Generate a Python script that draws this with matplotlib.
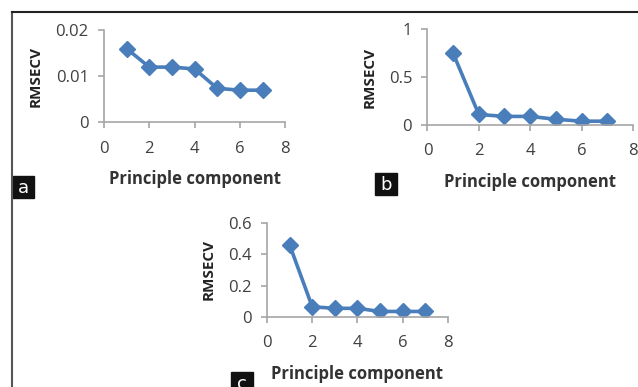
import matplotlib.pyplot as plt
from matplotlib.patches import Rectangle
from matplotlib.lines import Line2D

pc = [1, 2, 3, 4, 5, 6, 7]
rmsecv_a = [0.016, 0.012, 0.012, 0.0116, 0.0074, 0.007, 0.007]
rmsecv_b = [0.75, 0.11, 0.09, 0.09, 0.06, 0.04, 0.04]
rmsecv_c = [0.46, 0.065, 0.055, 0.055, 0.035, 0.035, 0.035]

y_ticks_a = [0, 0.01, 0.02]
y_ticks_b = [0, 0.5, 1]
y_ticks_c = [0, 0.2, 0.4, 0.6]
y_labels_a = ['0', '0.01', '0.02']
y_labels_b = ['0', '0.5', '1']
y_labels_c = ['0', '0.2', '0.4', '0.6']
x_ticks = [0, 2, 4, 6, 8]

plt.rcParams['font.family'] = ['Open Sans', 'DejaVu Sans']
blue = '#4a7ebb'
grey = '#a6a6a6'

fig = plt.figure(figsize=(6.38, 3.87), dpi=100)


def panel(rect, y, yticks, ylabels, ymax):
    ax = fig.add_axes(rect)
    ax.plot(pc, y, color=blue, lw=2.6, marker='D', ms=8, mec=blue, mfc=blue)
    ax.set_xlim(0, 8)
    ax.set_ylim(0, ymax)
    ax.set_xticks(x_ticks)
    ax.set_yticks(yticks)
    ax.set_yticklabels(ylabels)
    for s in ['top', 'right']:
        ax.spines[s].set_visible(False)
    for s in ['left', 'bottom']:
        ax.spines[s].set_color(grey)
        ax.spines[s].set_linewidth(1.2)
    ax.tick_params(colors=grey, labelcolor='#404040', labelsize=12,
                   length=4, width=1.2)
    ax.tick_params(axis='x', pad=9)
    ax.tick_params(axis='y', pad=7)
    ax.set_ylabel('RMSECV', fontsize=11, fontweight='bold', color='#222222',
                  labelpad=9)
    ax.set_xlabel('Principle component', fontsize=12, fontweight='bold',
                  color='#333333', labelpad=10)
    ax.patch.set_alpha(0)
    return ax


panel([0.163, 0.6835, 0.284, 0.2385], rmsecv_a, y_ticks_a, y_labels_a, 0.02)
panel([0.670, 0.677, 0.322, 0.247], rmsecv_b, y_ticks_b, y_labels_b, 1)
panel([0.4185, 0.181, 0.2835, 0.243], rmsecv_c, y_ticks_c, y_labels_c, 0.6)

# outer frame (top and left only)
fig.add_artist(Line2D([12 / 638, 12 / 638], [0, 1 - 12 / 387],
                      transform=fig.transFigure, color='#555555', lw=1.5))
fig.add_artist(Line2D([12 / 638, 1], [1 - 12 / 387, 1 - 12 / 387],
                      transform=fig.transFigure, color='#222222', lw=1.5))

# panel letters
for letter, x0, y0 in [('a', 12, 176), ('b', 375, 173), ('c', 231, 372)]:
    w, h = 22, 22
    fig.add_artist(Rectangle((x0 / 638, 1 - (y0 + h) / 387), w / 638, h / 387,
                             transform=fig.transFigure, color='#111111'))
    fig.text((x0 + w / 2) / 638, 1 - (y0 + h / 2 + 1) / 387, letter,
             color='white', fontsize=13, ha='center', va='center',
             family='DejaVu Sans')

fig.savefig('out.png', dpi=100)
